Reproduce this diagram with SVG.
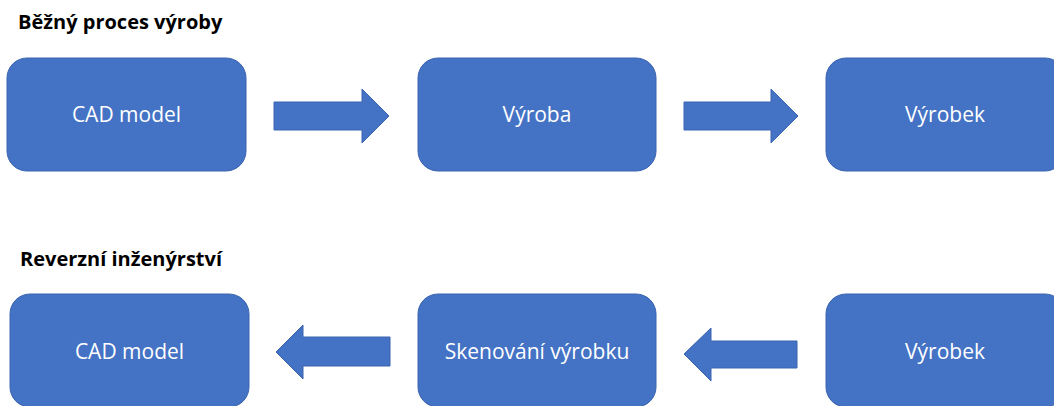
<svg xmlns="http://www.w3.org/2000/svg" width="1054" height="406" viewBox="0 0 1054 406">
<style>
.box{fill:#4472C4;stroke:#3A64B0;stroke-width:1}
.lbl{font-family:"Open Sans","Liberation Sans",sans-serif;font-size:21px;fill:#ffffff;text-anchor:middle}
.ttl{font-family:"Open Sans","Liberation Sans",sans-serif;font-size:20px;font-weight:bold;fill:#000000}
.arr{fill:#4472C4;stroke:#3A64B0;stroke-width:1}
</style>
<rect width="1054" height="406" fill="#ffffff"/>
<text class="ttl" x="18" y="29">Běžný proces výroby</text>
<text class="ttl" x="20" y="266">Reverzní inženýrství</text>
<g id="n1"><rect class="box" x="7" y="58" width="239" height="113" rx="20"/><text class="lbl" x="126.5" y="122">CAD model</text></g>
<g id="n2"><rect class="box" x="418" y="58" width="238" height="113" rx="20"/><text class="lbl" x="537" y="122">Výroba</text></g>
<g id="n3"><rect class="box" x="826" y="58" width="239" height="113" rx="20"/><text class="lbl" x="945" y="122">Výrobek</text></g>
<g id="n4"><rect class="box" x="10" y="294" width="239" height="113" rx="20"/><text class="lbl" x="129.5" y="359">CAD model</text></g>
<g id="n5"><rect class="box" x="418" y="294" width="238" height="113" rx="20"/><text class="lbl" x="537" y="359">Skenování výrobku</text></g>
<g id="n6"><rect class="box" x="826" y="294" width="239" height="113" rx="20"/><text class="lbl" x="945" y="359">Výrobek</text></g>
<g id="connectors">
<polygon class="arr" points="274,102 362,102 362,89 389,116 362,143 362,130 274,130"/>
<polygon class="arr" points="684,102 771,102 771,89 798,116 771,143 771,130 684,130"/>
<polygon class="arr" points="390,337 303,337 303,325 276,352 303,379 303,366 390,366"/>
<polygon class="arr" points="797,341 711,341 711,328 684,354 711,381 711,368 797,368"/>
</g>
</svg>
